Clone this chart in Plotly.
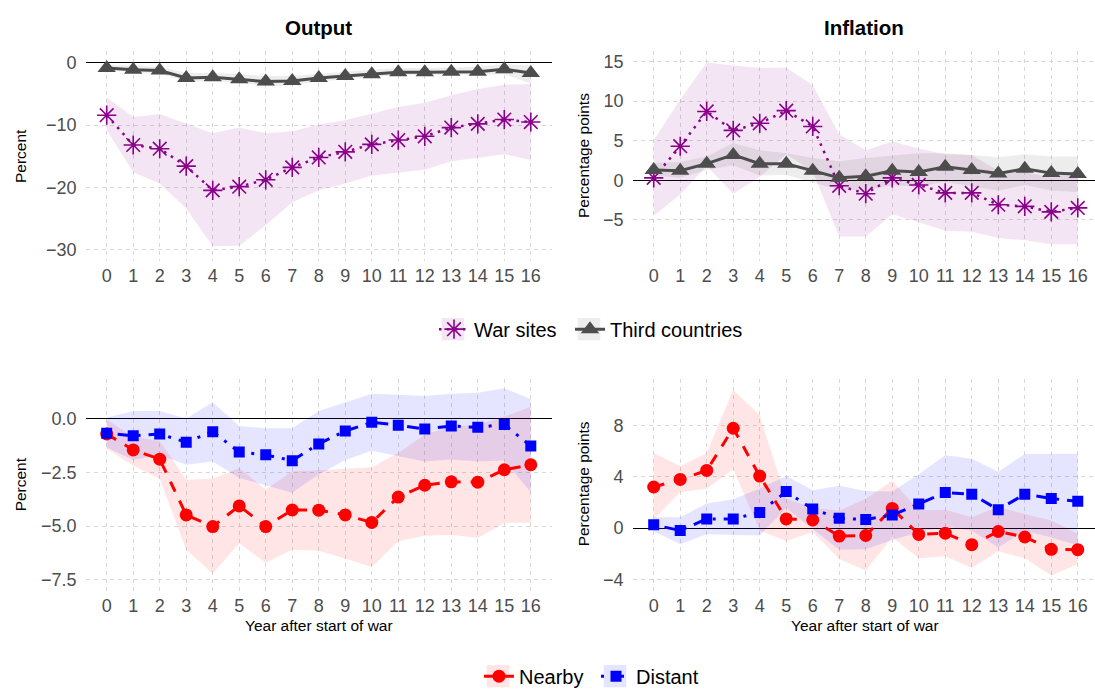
import plotly.graph_objects as go

# ---------------- data ----------------
years = list(range(17))

# Output: war sites vs third countries (top-left)
out_war = [-8.4, -13.2, -13.8, -16.6, -20.5, -19.9, -18.8, -16.8, -15.2, -14.3, -13.1, -12.4, -11.8, -10.4, -9.8, -9.1, -9.5]
out_war_hi = [-5.5, -8.7, -8.2, -9.8, -11.3, -10.4, -11.3, -11.0, -9.9, -9.2, -8.2, -7.1, -6.4, -5.2, -4.2, -3.5, -3.4]
out_war_lo = [-10.8, -17.6, -19.4, -23.4, -29.5, -29.4, -26.1, -22.4, -20.5, -19.4, -18.1, -17.7, -17.2, -15.8, -15.3, -14.7, -15.6]
out_third = [-0.8, -1.1, -1.2, -2.4, -2.3, -2.6, -3.0, -2.9, -2.4, -2.1, -1.8, -1.5, -1.5, -1.4, -1.4, -1.0, -1.6]
out_third_hi = [-0.3, -0.5, -0.6, -1.6, -1.6, -1.8, -2.1, -2.1, -1.7, -1.4, -1.1, -0.8, -0.8, -0.7, -0.6, -0.2, -0.4]
out_third_lo = [-1.1, -1.5, -1.7, -3.0, -2.9, -3.2, -3.7, -3.6, -3.0, -2.6, -2.3, -1.9, -2.0, -1.9, -1.9, -1.8, -3.3]

# Inflation: war sites vs third countries (top-right)
inf_war = [0.3, 4.3, 8.7, 6.3, 7.2, 8.8, 6.8, -0.7, -1.7, 0.3, -0.6, -1.6, -1.6, -3.1, -3.3, -4.0, -3.5]
inf_war_hi = [5.1, 10.2, 14.9, 14.5, 14.2, 14.25, 12.0, 5.8, 3.8, 4.9, 4.0, 3.3, 3.2, 1.2, 1.0, 0.4, 1.0]
inf_war_lo = [-4.5, -1.8, 1.8, -1.7, 0.4, 3.3, 1.1, -7.1, -7.1, -4.3, -5.3, -6.4, -6.5, -7.3, -7.6, -8.1, -8.1]
inf_third = [1.3, 1.2, 2.1, 3.2, 2.1, 2.1, 1.2, 0.3, 0.5, 1.2, 1.05, 1.7, 1.3, 0.85, 1.45, 0.9, 0.8]
inf_third_hi = [2.2, 2.3, 3.0, 4.7, 3.8, 3.4, 2.8, 2.4, 2.8, 3.1, 3.4, 3.4, 3.2, 2.9, 3.3, 3.0, 3.0]
inf_third_lo = [0.6, 0.3, 1.3, 1.9, 0.6, 0.7, -0.3, -1.2, -1.3, -0.6, -0.8, -0.2, -0.8, -1.3, -0.6, -1.3, -1.5]

# Output: nearby vs distant (bottom-left)
bl_near = [-0.72, -1.46, -1.89, -4.48, -5.02, -4.06, -5.02, -4.25, -4.26, -4.48, -4.83, -3.65, -3.10, -2.94, -2.96, -2.38, -2.15]
bl_near_hi = [-0.05, -0.85, -1.05, -2.85, -2.8, -2.3, -3.3, -2.45, -2.4, -2.35, -2.27, -1.6, -0.75, -0.37, -0.29, 0.09, 0.55]
bl_near_lo = [-1.4, -2.2, -2.8, -6.1, -7.2, -5.8, -6.7, -6.1, -6.15, -6.5, -6.9, -5.7, -5.45, -5.4, -5.55, -4.85, -4.84]
bl_dist = [-0.69, -0.80, -0.72, -1.10, -0.61, -1.56, -1.69, -1.96, -1.18, -0.58, -0.18, -0.31, -0.49, -0.35, -0.41, -0.28, -1.28]
bl_dist_hi = [0.05, 0.35, 0.35, 0.0, 0.75, -0.35, -0.45, -0.45, 0.35, 0.75, 1.15, 1.1, 1.05, 1.15, 1.2, 1.4, 0.9]
bl_dist_lo = [-1.35, -1.93, -1.7, -2.15, -2.0, -2.76, -3.1, -3.45, -2.6, -1.93, -1.5, -1.75, -2.0, -1.9, -2.0, -1.95, -3.43]

# Inflation: nearby vs distant (bottom-right)
br_near = [3.21, 3.80, 4.5, 7.79, 4.06, 0.72, 0.64, -0.62, -0.57, 1.54, -0.49, -0.39, -1.29, -0.26, -0.69, -1.65, -1.68]
br_near_hi = [5.86, 4.83, 5.86, 10.8, 8.8, 2.3, 1.6, 1.36, 2.3, 3.7, 1.4, 1.44, 0.85, 1.67, 1.1, 0.6, -0.44]
br_near_lo = [0.7, 2.8, 3.1, 4.6, -0.2, -1.0, -0.3, -2.4, -3.3, -0.7, -2.35, -2.2, -3.1, -1.8, -2.35, -3.7, -2.8]
br_dist = [0.26, -0.18, 0.72, 0.72, 1.23, 2.85, 1.49, 0.77, 0.67, 1.03, 1.88, 2.78, 2.65, 1.44, 2.65, 2.31, 2.09]
br_dist_hi = [0.85, 0.85, 1.93, 2.26, 3.1, 4.06, 2.95, 3.3, 2.9, 2.85, 4.2, 5.68, 5.42, 4.4, 5.78, 5.78, 5.8]
br_dist_lo = [-0.25, -1.25, -0.47, -0.5, -0.57, 1.57, -0.08, -1.68, -1.65, -0.93, -0.31, 0.13, -0.21, -1.5, -0.2, -0.73, -1.36]

# tick labels
x_ticks = years
y_ticks_out = [-30, -20, -10, 0]
y_ticks_inf = [-5, 0, 5, 10, 15]
y_ticks_out2 = [-7.5, -5.0, -2.5, 0.0]
y_ticks_inf2 = [-4, 0, 4, 8]

# ---------------- styling ----------------
W, H = 1095, 696
FONT = "Liberation Sans, Arial, Helvetica, sans-serif"
PURPLE = "#8B008B"
GRAY = "#4d4d4d"
RED = "#FF0000"
BLUE = "#0000FF"
F_PURPLE = "rgba(139,0,139,0.1)"
F_GRAY = "rgba(77,77,77,0.1)"
F_RED = "rgba(255,0,0,0.1)"
F_BLUE = "rgba(0,0,255,0.1)"


def px_x(p):
    return p / W


def px_y(p):
    return 1 - p / H


fig = go.Figure()


def ribbon(xa, ya, lo, hi, rgba):
    fig.add_trace(go.Scatter(
        x=years + years[::-1], y=hi + lo[::-1], fill="toself", fillcolor=rgba,
        mode="lines", line=dict(width=0), hoverinfo="skip", showlegend=False,
        xaxis=xa, yaxis=ya))


def series(xa, ya, y, name, color, symbol, msize, dash, lw, legend=None, mline=None):
    marker = dict(symbol=symbol, size=msize, color=color)
    if mline is not None:
        marker["line"] = dict(color=color, width=mline)
    fig.add_trace(go.Scatter(
        x=years, y=y, name=name, mode="lines+markers",
        line=dict(color=color, width=lw, dash=dash), marker=marker,
        showlegend=legend is not None, legend=legend if legend else "legend",
        xaxis=xa, yaxis=ya))


DOT = "2.5px,5.5px"
DASH = "11px,10px"
DOTDASH = "3px,8px,12px,8px"

# top-left
ribbon("x", "y", out_war_lo, out_war_hi, F_PURPLE)
ribbon("x", "y", out_third_lo, out_third_hi, F_GRAY)
series("x", "y", out_war, "War sites", PURPLE, "asterisk-open", 16, DOT, 2.5, legend="legend", mline=1.6)
series("x", "y", out_third, "Third countries", GRAY, "triangle-up", 16, "solid", 3, legend="legend2")
# top-right
ribbon("x2", "y2", inf_war_lo, inf_war_hi, F_PURPLE)
ribbon("x2", "y2", inf_third_lo, inf_third_hi, F_GRAY)
series("x2", "y2", inf_war, "War sites", PURPLE, "asterisk-open", 16, DOT, 2.5, mline=1.6)
series("x2", "y2", inf_third, "Third countries", GRAY, "triangle-up", 16, "solid", 3)
# bottom-left
ribbon("x3", "y3", bl_near_lo, bl_near_hi, F_RED)
ribbon("x3", "y3", bl_dist_lo, bl_dist_hi, F_BLUE)
series("x3", "y3", bl_near, "Nearby", RED, "circle", 13, DASH, 3, legend="legend3")
series("x3", "y3", bl_dist, "Distant", BLUE, "square", 11, DOTDASH, 3, legend="legend4")
# bottom-right
ribbon("x4", "y4", br_near_lo, br_near_hi, F_RED)
ribbon("x4", "y4", br_dist_lo, br_dist_hi, F_BLUE)
series("x4", "y4", br_near, "Nearby", RED, "circle", 13, DASH, 3)
series("x4", "y4", br_dist, "Distant", BLUE, "square", 11, DOTDASH, 3)

# panel geometry (pixels)
LX = [85.5, 552.0]
RX = [632.5, 1095.0]
TY = [51.7, 264.0]
BY = [383.3, 598.0]

grid = dict(showgrid=True, gridcolor="#d8d8d8", gridwidth=1.1, griddash="4px,4px",
            showline=False, ticks="", tickfont=dict(family=FONT, size=18, color="#4d4d4d"))


def xax(dom, rng, anchor):
    return dict(domain=[px_x(dom[0]), px_x(dom[1])], range=rng, anchor=anchor,
                tickmode="array", tickvals=x_ticks, ticktext=[str(v) for v in x_ticks],
                zeroline=False, ticklabelstandoff=2, **grid)


def yax(dom, rng, anchor, tv, fmt):
    return dict(domain=[px_y(dom[1]), px_y(dom[0])], range=rng, anchor=anchor,
                tickmode="array", tickvals=tv, ticktext=[fmt.format(v).replace("-", "\u2212") for v in tv],
                zeroline=True, zerolinecolor="black", zerolinewidth=1.2,
                ticklabelstandoff=8, **grid)


fig.update_layout(
    width=W, height=H, margin=dict(l=0, r=0, t=0, b=0, pad=0),
    paper_bgcolor="white", plot_bgcolor="white",
    font=dict(family=FONT, color="black"),
    xaxis=xax(LX, [-0.8, 16.8], "y"),
    yaxis=yax(TY, [-31.86, 1.91], "x", y_ticks_out, "{:d}"),
    xaxis2=xax(RX, [-0.8, 16.65], "y2"),
    yaxis2=yax(TY, [-10.21, 16.33], "x2", y_ticks_inf, "{:d}"),
    xaxis3=xax(LX, [-0.8, 16.8], "y3"),
    yaxis3=yax(BY, [-8.02, 1.84], "x3", y_ticks_out2, "{:.1f}"),
    xaxis4=xax(RX, [-0.8, 16.65], "y4"),
    yaxis4=yax(BY, [-4.91, 11.64], "x4", y_ticks_inf2, "{:d}"),
    showlegend=True,
)

leg_common = dict(orientation="h", xanchor="left", yanchor="middle", bgcolor="rgba(0,0,0,0)",
                  font=dict(family=FONT, size=20, color="black"), itemwidth=30,
                  itemclick=False, itemdoubleclick=False)
LEG_TOP_Y = 333.0
LEG_BOT_Y = 684.0
fig.update_layout(
    legend=dict(x=px_x(434), y=px_y(LEG_TOP_Y), **leg_common),
    legend2=dict(x=px_x(570), y=px_y(LEG_TOP_Y), **leg_common),
    legend3=dict(x=px_x(479), y=px_y(LEG_BOT_Y), **leg_common),
    legend4=dict(x=px_x(596), y=px_y(LEG_BOT_Y), **leg_common),
)

# legend key backgrounds (ribbon colour behind each legend glyph)
shapes = []
for cx, cy, col in [(453, LEG_TOP_Y, F_PURPLE), (589, LEG_TOP_Y, F_GRAY),
                    (498, LEG_BOT_Y, F_RED), (615, LEG_BOT_Y, F_BLUE)]:
    shapes.append(dict(type="rect", xref="paper", yref="paper", layer="below",
                       x0=px_x(cx - 11.3), x1=px_x(cx + 11.3), y0=px_y(cy + 11.3), y1=px_y(cy - 11.3),
                       fillcolor=col, line=dict(width=0)))
fig.update_layout(shapes=shapes)

# titles
ann = []
for txt, cx in [("<b>Output</b>", (LX[0] + LX[1]) / 2), ("<b>Inflation</b>", (RX[0] + RX[1]) / 2)]:
    ann.append(dict(text=txt, x=px_x(cx), y=px_y(28.3), xref="paper", yref="paper",
                    showarrow=False, xanchor="center", yanchor="middle",
                    font=dict(family=FONT, size=20.5, color="black")))
for txt, cx, cy in [("Percent", 20, (TY[0] + TY[1]) / 2), ("Percentage points", 583, (TY[0] + TY[1]) / 2),
                    ("Percent", 20, 490), ("Percentage points", 583, 490)]:
    ann.append(dict(text=txt, x=px_x(cx), y=px_y(cy), xref="paper", yref="paper", textangle=-90,
                    showarrow=False, xanchor="center", yanchor="middle",
                    font=dict(family=FONT, size=15.5, color="black")))
for cx in [318.8, 864.5]:
    ann.append(dict(text="Year after start of war", x=px_x(cx), y=px_y(632.5), xref="paper", yref="paper",
                    showarrow=False, xanchor="center", yanchor="middle",
                    font=dict(family=FONT, size=15.5, color="black")))
fig.update_layout(annotations=ann)

fig.write_html("out.html", config={"displayModeBar": False})
